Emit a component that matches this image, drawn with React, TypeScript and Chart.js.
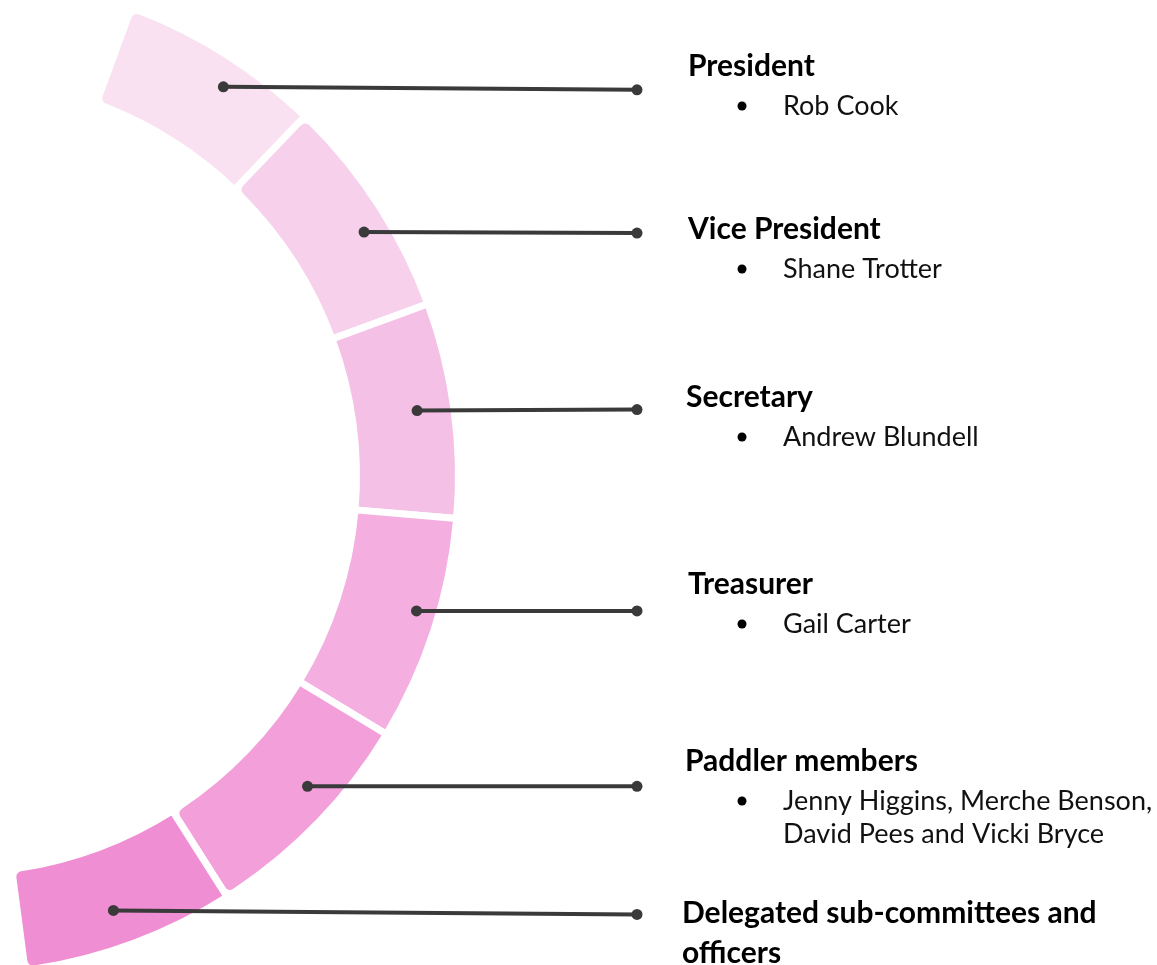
import React, { useEffect, useRef } from 'react';
import { Chart, registerables } from 'chart.js';

Chart.register(...registerables);

// ---- data ----
const roles = [
  'President',
  'Vice President',
  'Secretary',
  'Treasurer',
  'Paddler members',
  'Delegated sub-committees and officers',
];
const members = [
  'Rob Cook',
  'Shane Trotter',
  'Andrew Blundell',
  'Gail Carter',
  'Jenny Higgins, Merche Benson, David Pees and Vicki Bryce',
  '',
];
// angular span of each block (degrees)
const arcSpans = [23.7, 26.0, 25.1, 26.3, 26.4, 24.9];
const segmentColors = ['#f9e1f1', '#f7d0ec', '#f5c0e6', '#f4aee0', '#f29fda', '#f08ed3'];

// ---- layout ----
const W = 1157;
const H = 965;
const CENTER_X = -40;
const CENTER_Y = 476;
const OUTER = 495;
const INNER = 400;
const GAP = 7;
const START_DEG = 20.1;
const LINE_END_X = 637;
const LINE_COLOR = '#3a3a3a';
// where, along each block's span, the connector starts (0 = start edge, 1 = end edge)
const ANCHOR_FRAC = [0.59, 0.58, 0.48, 0.44, 0.4, 0.52];
const ANCHOR_RADIAL = [0.72, 0.74, 0.64, 0.78, 0.68, 0.63];
const LINE_TILT = [3, 1, -1, 0, 0, 4];
const HEADING_Y = [66, 229, 397, 584, 761, 913];
const HEADING_X = [688, 688, 686, 688, 685, 682];
const BULLET_X = 742;
const ITEM_X = 783;
const FONT = 'Lato, "Open Sans", sans-serif';
const HEAD_SIZE = 30;
const ITEM_SIZE = 27;

const TAU = Math.PI * 2;
const norm = (a: number) => ((a % TAU) + TAU) % TAU;

function arcOffsets(rotationDeg: number, circumferenceDeg: number, cutout: number) {
  const start = ((rotationDeg - 90) * Math.PI) / 180;
  const end = start + (circumferenceDeg * Math.PI) / 180;
  const inside = (a: number) => norm(a - start) <= end - start;
  const sx = Math.cos(start), sy = Math.sin(start), ex = Math.cos(end), ey = Math.sin(end);
  const mx = (a: number, p: number, q: number) => (inside(a) ? 1 : Math.max(p, p * cutout, q, q * cutout));
  const mn = (a: number, p: number, q: number) => (inside(a) ? -1 : Math.min(p, p * cutout, q, q * cutout));
  const maxX = mx(0, sx, ex);
  const maxY = mx(Math.PI / 2, sy, ey);
  const minX = mn(Math.PI, sx, ex);
  const minY = mn(Math.PI * 1.5, sy, ey);
  return { offsetX: -(maxX + minX) / 2, offsetY: -(maxY + minY) / 2 };
}

function wrap(ctx: CanvasRenderingContext2D, text: string, maxWidth: number) {
  const words = text.split(' ');
  const lines: string[] = [];
  let cur = '';
  for (const w of words) {
    const test = cur ? cur + ' ' + w : w;
    if (cur && ctx.measureText(test).width > maxWidth) {
      lines.push(cur);
      cur = w;
    } else cur = test;
  }
  if (cur) lines.push(cur);
  return lines;
}

const connectorPlugin = {
  id: 'connectors',
  afterDatasetsDraw(chart: any) {
    const ctx: CanvasRenderingContext2D = chart.ctx;
    const arcs = chart.getDatasetMeta(0).data;
    ctx.save();
    arcs.forEach((arc: any, i: number) => {
      const p = arc.getProps(['x', 'y', 'startAngle', 'endAngle', 'innerRadius', 'outerRadius'], true);
      const a = p.startAngle + ANCHOR_FRAC[i] * (p.endAngle - p.startAngle);
      const r = p.innerRadius + ANCHOR_RADIAL[i] * (p.outerRadius - p.innerRadius);
      const x0 = p.x + r * Math.cos(a);
      const y0 = p.y + r * Math.sin(a);
      const y1 = y0 + LINE_TILT[i];
      ctx.strokeStyle = LINE_COLOR;
      ctx.fillStyle = LINE_COLOR;
      ctx.lineWidth = 4;
      ctx.beginPath();
      ctx.moveTo(x0, y0);
      ctx.lineTo(LINE_END_X, y1);
      ctx.stroke();
      ctx.beginPath();
      ctx.arc(x0, y0, 5.5, 0, TAU);
      ctx.fill();
      ctx.beginPath();
      ctx.arc(LINE_END_X, y1, 5.5, 0, TAU);
      ctx.fill();
    });

    ctx.textAlign = 'left';
    ctx.textBaseline = 'middle';
    roles.forEach((role, i) => {
      ctx.fillStyle = '#000000';
      ctx.font = `bold ${HEAD_SIZE}px ${FONT}`;
      wrap(ctx, role, 465).forEach((line, k) => {
        ctx.fillText(line, HEADING_X[i], HEADING_Y[i] + k * 40);
      });
      if (members[i]) {
        const y = HEADING_Y[i] + 40;
        ctx.beginPath();
        ctx.arc(BULLET_X, y, 4.5, 0, TAU);
        ctx.fill();
        ctx.fillStyle = '#111111';
        ctx.font = `${ITEM_SIZE}px ${FONT}`;
        wrap(ctx, members[i], 400).forEach((line, k) => {
          ctx.fillText(line, ITEM_X, y + k * 33);
        });
      }
    });
    ctx.restore();
  },
};

export default function App() {
  const ref = useRef<HTMLCanvasElement>(null);
  useEffect(() => {
    if (!ref.current) return;
    const R = OUTER + GAP / 2;
    const rIn = INNER - GAP / 2;
    const cut = rIn / R;
    const circumference = arcSpans.reduce((a, b) => a + b, 0);
    const { offsetX, offsetY } = arcOffsets(START_DEG, circumference, cut);
    const cx = CENTER_X - offsetX * R;
    const cy = CENTER_Y - offsetY * R;
    const padding = {
      left: cx <= W / 2 ? 0 : 2 * cx - W,
      right: cx <= W / 2 ? W - 2 * cx : 0,
      top: cy <= H / 2 ? 0 : 2 * cy - H,
      bottom: cy <= H / 2 ? H - 2 * cy : 0,
    };
    const n = arcSpans.length;
    const chart = new Chart(ref.current, {
      type: 'doughnut',
      data: {
        labels: roles,
        datasets: [
          {
            data: arcSpans,
            backgroundColor: segmentColors,
            borderColor: '#ffffff',
            borderWidth: GAP,
            borderRadius: (c: any) => {
              const i = c.dataIndex;
              if (i < 2) return { outerStart: 9, innerStart: 9, outerEnd: 0, innerEnd: 0 };
              if (i >= n - 2) return { outerStart: 0, innerStart: 0, outerEnd: 9, innerEnd: 9 };
              return 0;
            },
          },
        ],
      },
      options: {
        responsive: false,
        animation: false,
        events: [],
        rotation: START_DEG,
        circumference,
        cutout: `${cut * 100}%`,
        radius: R,
        layout: { padding },
        plugins: { legend: { display: false }, tooltip: { enabled: false } },
      } as any,
      plugins: [connectorPlugin],
    });
    return () => chart.destroy();
  }, []);
  return (
    <div style={{ position: 'absolute', left: 0, top: 0, width: W, height: H, background: '#ffffff' }}>
      <canvas ref={ref} width={W} height={H} style={{ display: 'block' }} />
    </div>
  );
}
